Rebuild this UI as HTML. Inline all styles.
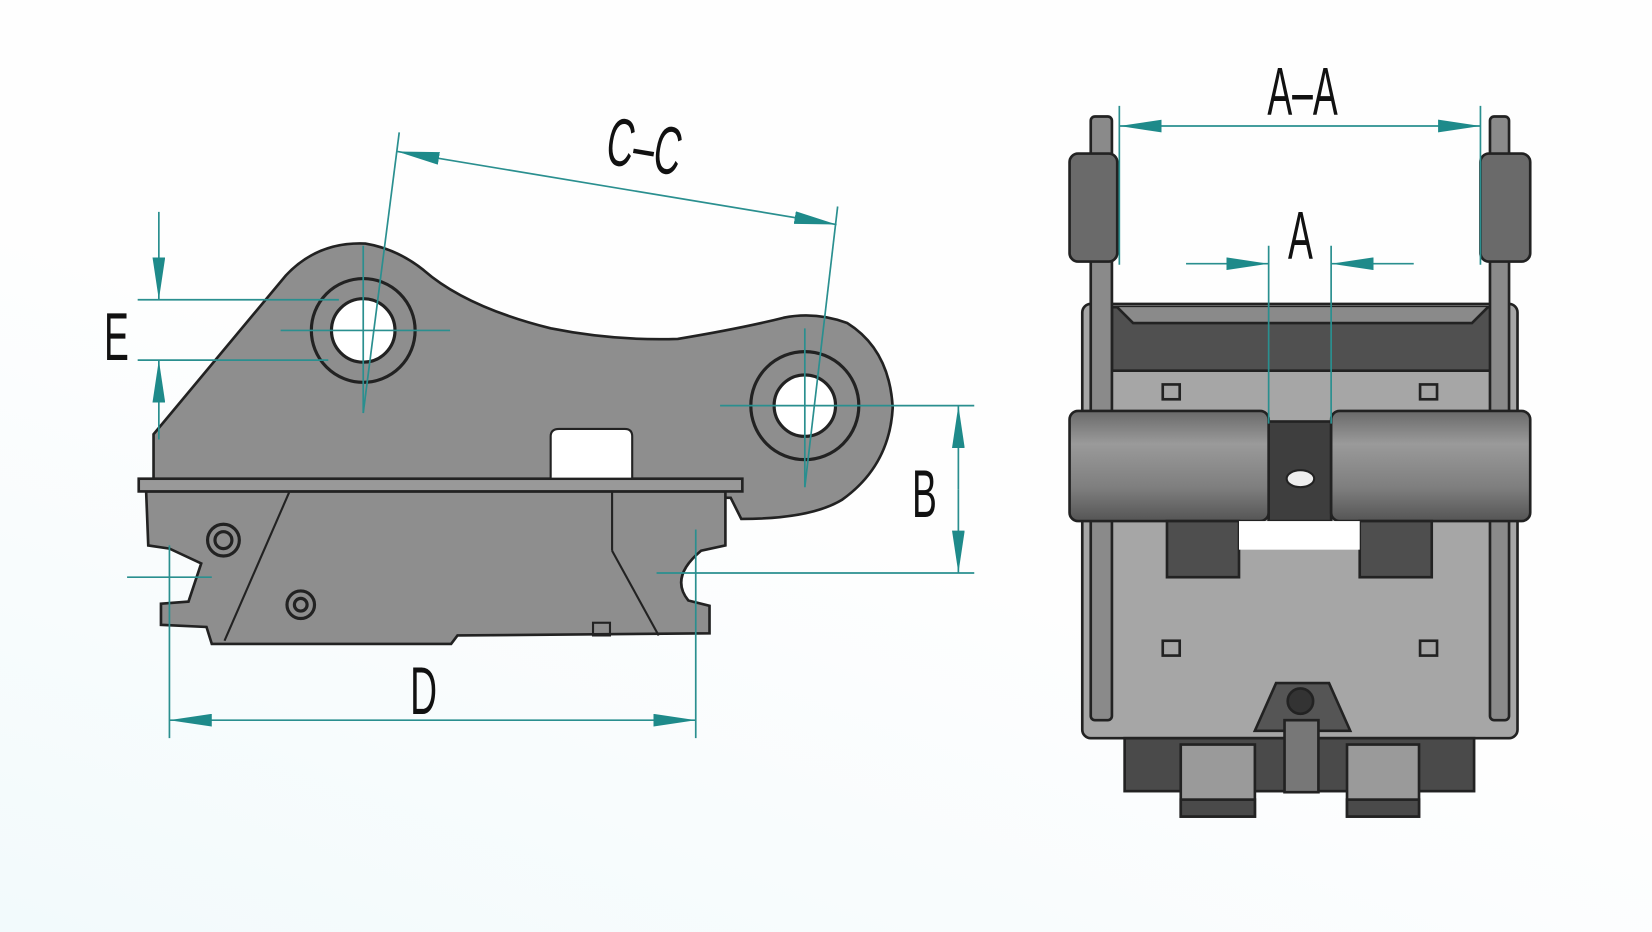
<!DOCTYPE html>
<html><head><meta charset="utf-8"><style>
html,body{margin:0;padding:0;background:#fdfefe;}
svg{display:block}
.t{font-family:"Liberation Sans",sans-serif;fill:#111;}
</style></head><body>
<svg width="1652" height="932" viewBox="0 0 1560 880" preserveAspectRatio="none" xmlns="http://www.w3.org/2000/svg">
<defs>
<linearGradient id="bg" x1="0" y1="1" x2="0.35" y2="0.45"><stop offset="0" stop-color="#f2fafc"/><stop offset="1" stop-color="#fefefe"/></linearGradient>
<linearGradient id="roll" x1="0" y1="0" x2="0" y2="1"><stop offset="0" stop-color="#6a6a6a"/><stop offset="0.3" stop-color="#9a9a9a"/><stop offset="0.7" stop-color="#7e7e7e"/><stop offset="1" stop-color="#555"/></linearGradient>
<marker id="ar" viewBox="0 0 40 12" refX="40" refY="6" markerWidth="40" markerHeight="12" markerUnits="userSpaceOnUse" orient="auto-start-reverse"><path d="M0,0 L40,6 L0,12 Z" fill="#1e8a8a"/></marker>
</defs>
<rect width="1560" height="880" fill="url(#bg)"/>
<g stroke="#222" stroke-width="2.5" fill="#8e8e8e">
<path d="M145,455 L145,410 L270,260 Q300,228 345,230 Q375,235 400,255 Q440,290 520,310 Q580,322 640,320 Q700,310 740,300 Q770,294 800,305 Q840,330 843,385 Q840,440 795,472 Q765,490 700,490 L690,470 L145,465 Z"/>
<path d="M138,464 L685,464 L685,515 L662,520 Q632,545 650,567 L670,572 L670,598 L432,600 L426,608 L200,608 L195,592 L152,590 L152,570 L178,568 L190,532 L160,518 L140,515 Z"/>
<rect x="131" y="452" width="570" height="12" fill="#999"/>
</g>
<path d="M520,452 L520,412 Q520,405 528,405 L590,405 Q597,405 597,412 L597,452 Z" fill="#fff" stroke="#222" stroke-width="2"/>
<line x1="273" y1="465" x2="212" y2="605" stroke="#222" stroke-width="2"/>
<line x1="578" y1="465" x2="578" y2="520" stroke="#222" stroke-width="2"/>
<line x1="578" y1="520" x2="622" y2="600" stroke="#222" stroke-width="2"/>
<rect x="560" y="588" width="16" height="12" fill="none" stroke="#222" stroke-width="2"/>
<g fill="#8e8e8e" stroke="#222" stroke-width="3">
<circle cx="343" cy="312" r="49"/><circle cx="343" cy="312" r="30" fill="#fff"/>
<circle cx="760" cy="383" r="51"/><circle cx="760" cy="383" r="29" fill="#fff"/>
<circle cx="211" cy="510" r="15"/><circle cx="211" cy="510" r="8"/>
<circle cx="284" cy="571" r="13"/><circle cx="284" cy="571" r="6"/>
</g>
<g stroke="#222" stroke-width="2.5">
<rect x="1022" y="287" width="411" height="410" rx="8" fill="#a6a6a6"/>
<path d="M1050,290 L1410,290 L1410,350 L1050,350 Z" fill="#505050"/>
<path d="M1055,290 L1070,305 L1390,305 L1405,290" fill="#8a8a8a"/>
<rect x="1030" y="110" width="20" height="570" rx="4" fill="#8a8a8a"/>
<rect x="1407" y="110" width="18" height="570" rx="4" fill="#8a8a8a"/>
<rect x="1010" y="145" width="45" height="102" rx="8" fill="#6a6a6a"/>
<rect x="1398" y="145" width="47" height="102" rx="8" fill="#6a6a6a"/>
<rect x="1198" y="398" width="59" height="94" fill="#3e3e3e"/>
<rect x="1010" y="388" width="188" height="104" rx="8" fill="url(#roll)"/>
<rect x="1257" y="388" width="188" height="104" rx="8" fill="url(#roll)"/>
<rect x="1102" y="492" width="68" height="53" fill="#4e4e4e"/>
<rect x="1284" y="492" width="68" height="53" fill="#4e4e4e"/>
<rect x="1170" y="492" width="114" height="27" fill="#fff" stroke="none"/>
<rect x="1062" y="697" width="330" height="50" fill="#4a4a4a"/>
<rect x="1115" y="703" width="70" height="68" fill="#9a9a9a"/>
<rect x="1272" y="703" width="68" height="68" fill="#9a9a9a"/>
<rect x="1115" y="755" width="70" height="16" fill="#4a4a4a"/>
<rect x="1272" y="755" width="68" height="16" fill="#4a4a4a"/>
<path d="M1185,690 L1205,645 L1255,645 L1275,690 Z" fill="#555"/>
<rect x="1213" y="680" width="32" height="68" fill="#777"/>
<circle cx="1228" cy="662" r="12" fill="#333"/>
</g>
<ellipse cx="1228" cy="452" rx="13" ry="8" fill="#eee" stroke="#222" stroke-width="2"/>
<g fill="none" stroke="#222" stroke-width="2.5">
<rect x="1098" y="363" width="16" height="14"/><rect x="1341" y="363" width="16" height="14"/>
<rect x="1098" y="605" width="16" height="14"/><rect x="1341" y="605" width="16" height="14"/>
</g>
<g stroke="#2a8f8f" stroke-width="1.6" fill="none">
<line x1="265" y1="312" x2="425" y2="312"/><line x1="343" y1="232" x2="343" y2="390"/>
<line x1="680" y1="383" x2="920" y2="383"/><line x1="760" y1="310" x2="760" y2="460"/>
<line x1="377" y1="125" x2="343" y2="390"/><line x1="791" y1="195" x2="760" y2="460"/>
<line x1="375" y1="143" x2="790" y2="212" marker-start="url(#ar)" marker-end="url(#ar)"/>
<line x1="130" y1="283" x2="320" y2="283"/><line x1="130" y1="340" x2="310" y2="340"/>
<line x1="150" y1="200" x2="150" y2="283" marker-end="url(#ar)"/>
<line x1="150" y1="415" x2="150" y2="340" marker-end="url(#ar)"/>
<line x1="620" y1="541" x2="920" y2="541"/>
<line x1="905" y1="462" x2="905" y2="383" marker-end="url(#ar)"/>
<line x1="905" y1="462" x2="905" y2="541" marker-end="url(#ar)"/>
<line x1="120" y1="545" x2="200" y2="545"/>
<line x1="160" y1="515" x2="160" y2="697"/><line x1="657" y1="500" x2="657" y2="697"/>
<line x1="160" y1="680" x2="657" y2="680" marker-start="url(#ar)" marker-end="url(#ar)"/>
<line x1="1057" y1="100" x2="1057" y2="250"/><line x1="1398" y1="100" x2="1398" y2="250"/>
<line x1="1057" y1="119" x2="1398" y2="119" marker-start="url(#ar)" marker-end="url(#ar)"/>
<line x1="1198" y1="232" x2="1198" y2="400"/><line x1="1257" y1="232" x2="1257" y2="400"/>
<line x1="1120" y1="249" x2="1198" y2="249" marker-end="url(#ar)"/>
<line x1="1335" y1="249" x2="1257" y2="249" marker-end="url(#ar)"/>
</g>
<g class="t" font-size="64">
<text x="0" y="0" transform="translate(1230,108) scale(0.55,1)" text-anchor="middle">A–A</text>
<text x="0" y="0" transform="translate(1228,244) scale(0.55,1)" text-anchor="middle">A</text>
<text x="0" y="0" transform="translate(605,160) rotate(9.5) scale(0.55,1)" text-anchor="middle">C–C</text>
<text x="0" y="0" transform="translate(110,340) scale(0.55,1)" text-anchor="middle">E</text>
<text x="0" y="0" transform="translate(873,488) scale(0.55,1)" text-anchor="middle">B</text>
<text x="0" y="0" transform="translate(400,674) scale(0.55,1)" text-anchor="middle">D</text>
</g>
</svg>
</body></html>
